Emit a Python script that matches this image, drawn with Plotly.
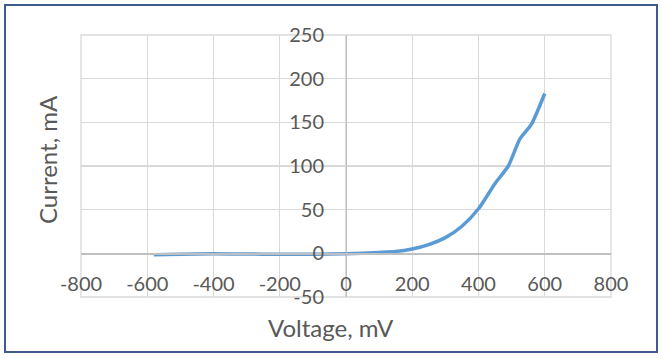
import plotly.graph_objects as go

# Data
voltage_mV = [-580, -500, -400, -300, -200, -100, 0, 100, 150, 200, 250, 300, 350, 400, 450, 490, 525, 560, 600]
current_mA = [-1.5, -1.0, -0.5, -0.8, -1.0, -1.0, -0.5, 1, 2, 5, 10, 18, 31, 51, 80, 100, 131, 148, 183]

x_ticks = [-800, -600, -400, -200, 0, 200, 400, 600, 800]
y_ticks = [-50, 0, 50, 100, 150, 200, 250]

W, H = 662, 359
L, R, T, B = 81, 611, 35, 297  # plot area pixel edges

font_family = "Lato, 'Open Sans', sans-serif"
txt = "#595959"

fig = go.Figure()
fig.add_trace(go.Scatter(
    x=voltage_mV, y=current_mA, mode="lines",
    line=dict(color="#5B9BD5", width=3.5, shape="spline", smoothing=0.6),
    showlegend=False, hoverinfo="skip",
))

def px_x(p):
    return (p - L) / (R - L)

def px_y(p):
    return (B - p) / (B - T)

fig.update_layout(
    width=W, height=H,
    margin=dict(l=L, r=W - R, t=T, b=H - B, pad=0),
    paper_bgcolor="white", plot_bgcolor="white",
    font=dict(family=font_family, color=txt, size=20),
    xaxis=dict(
        range=[-800, 800], tickvals=x_ticks, ticktext=[str(v) for v in x_ticks],
        showgrid=True, gridcolor="#D9D9D9", gridwidth=1.3,
        zeroline=False, showline=True, linecolor="#BFBFBF", linewidth=1.3,
        anchor="free", position=50 / 300,
        ticks="outside", ticklen=12, tickcolor="rgba(0,0,0,0)",
        tickfont=dict(size=20, color=txt, family=font_family),
        domain=[0, 1],
    ),
    yaxis=dict(
        range=[-50, 250], tickvals=y_ticks, ticktext=[str(v) for v in y_ticks],
        showgrid=True, gridcolor="#D9D9D9", gridwidth=1.3,
        zeroline=False, showline=True, linecolor="#BFBFBF", linewidth=1.3,
        anchor="free", position=0.5,
        ticks="outside", ticklen=18, tickcolor="rgba(0,0,0,0)",
        tickfont=dict(size=20, color=txt, family=font_family),
        domain=[0, 1],
    ),
    annotations=[
        dict(text="Voltage, mV", xref="paper", yref="paper",
             x=px_x(331), y=px_y(327), xanchor="center", yanchor="middle",
             showarrow=False, font=dict(size=24, color=txt, family=font_family)),
        dict(text="Current, mA", xref="paper", yref="paper", textangle=-90,
             x=px_x(47), y=px_y(160), xanchor="center", yanchor="middle",
             showarrow=False, font=dict(size=24, color=txt, family=font_family)),
    ],
    shapes=[
        # outer gridline frame of the plot area
        dict(type="rect", xref="paper", yref="paper", x0=0, x1=1, y0=0, y1=1,
             line=dict(color="#D9D9D9", width=1.3), fillcolor="rgba(0,0,0,0)", layer="below"),
        # chart border
        dict(type="rect", xref="paper", yref="paper",
             x0=px_x(5), x1=px_x(657), y0=px_y(352), y1=px_y(5),
             line=dict(color="#3E5C8A", width=2), fillcolor="rgba(0,0,0,0)", layer="above"),
    ],
)

fig.write_html("out.html", config={"displayModeBar": False, "staticPlot": True},
               post_script="document.body.style.margin='0';document.body.style.overflow='hidden';")
